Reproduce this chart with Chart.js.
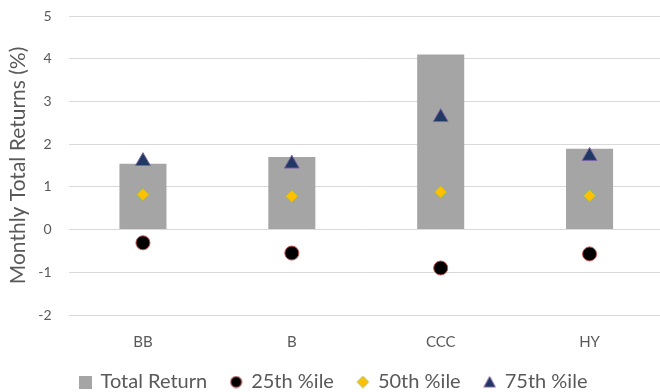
<!DOCTYPE html>
<html>
<head>
<meta charset="utf-8">
<script src="https://cdn.jsdelivr.net/npm/chart.js@4"></script>
<style>
  html, body { margin: 0; padding: 0; background: #fff; overflow: hidden; }
  #wrap { width: 660px; height: 392px; overflow: hidden; }
</style>
</head>
<body>
<div id="wrap"><canvas id="c" width="666" height="402"></canvas></div>
<script>
// Rating buckets
const categories = ['BB', 'B', 'CCC', 'HY'];
// Monthly total returns (%)
const totalReturn = [1.54, 1.70, 4.10, 1.89];
const pct25 = [-0.31, -0.55, -0.90, -0.57];
const pct50 = [0.82, 0.78, 0.88, 0.79];
const pct75 = [1.60, 1.54, 2.63, 1.72];
// Y axis tick values
const yTicks = [-2, -1, 0, 1, 2, 3, 4, 5];

const FONT = 'Lato, "Open Sans", sans-serif';
const TEXT = '#595959';

// Small legend icons
function icon(size, draw) {
  const cv = document.createElement('canvas');
  cv.width = size; cv.height = size;
  const g = cv.getContext('2d');
  draw(g, size);
  return cv;
}
const iconBar = icon(13, (g, s) => { g.fillStyle = '#A5A5A5'; g.fillRect(0, 0, s, s); });
const iconCircle = icon(13, (g, s) => {
  g.beginPath(); g.arc(s / 2, s / 2, 5.5, 0, Math.PI * 2);
  g.fillStyle = '#000'; g.fill(); g.lineWidth = 1; g.strokeStyle = '#C0504D'; g.stroke();
});
const iconDiamond = icon(13, (g, s) => {
  g.beginPath(); g.moveTo(s / 2, 0.8); g.lineTo(s - 0.8, s / 2); g.lineTo(s / 2, s - 0.8); g.lineTo(0.8, s / 2); g.closePath();
  g.fillStyle = '#FFC000'; g.fill(); g.lineWidth = 1; g.strokeStyle = '#9BBB59'; g.stroke();
});
const iconTriangle = icon(13, (g, s) => {
  g.beginPath(); g.moveTo(s / 2, 1); g.lineTo(s - 0.8, s - 1.5); g.lineTo(0.8, s - 1.5); g.closePath();
  g.fillStyle = '#1F3864'; g.fill(); g.lineWidth = 1; g.strokeStyle = '#8064A2'; g.stroke();
});
const legendIcons = [iconBar, iconCircle, iconDiamond, iconTriangle];

new Chart(document.getElementById('c'), {
  type: 'bar',
  data: {
    labels: categories,
    datasets: [
      {
        label: 'Total Return', data: totalReturn, backgroundColor: '#A5A5A5',
        barPercentage: 0.316, categoryPercentage: 1.0, order: 1
      },
      {
        type: 'line', label: '25th %ile', data: pct25, showLine: false, order: 0,
        pointStyle: 'circle', pointRadius: 7, pointBackgroundColor: '#000000',
        pointBorderColor: '#C0504D', pointBorderWidth: 1
      },
      {
        type: 'line', label: '50th %ile', data: pct50, showLine: false, order: 0,
        pointStyle: 'rectRot', pointRadius: 6.2, pointBackgroundColor: '#FFC000',
        pointBorderColor: '#9BBB59', pointBorderWidth: 1
      },
      {
        type: 'line', label: '75th %ile', data: pct75, showLine: false, order: 0,
        pointStyle: 'triangle', pointRadius: 8.6, pointBackgroundColor: '#1F3864',
        pointBorderColor: '#8064A2', pointBorderWidth: 1
      }
    ]
  },
  options: {
    responsive: false,
    animation: false,
    events: [],
    layout: { autoPadding: false, padding: { top: 16, left: 4, right: 2, bottom: 0 } },
    plugins: {
      tooltip: { enabled: false },
      legend: {
        position: 'bottom',
        labels: {
          usePointStyle: true,
          boxHeight: 13,
          pointStyleWidth: 10,
          padding: 24,
          color: TEXT,
          font: { family: FONT, size: 20 },
          generateLabels: (chart) => chart.data.datasets.map((ds, i) => ({
            text: ds.label,
            pointStyle: legendIcons[i],
            fillStyle: '#000', strokeStyle: '#000', lineWidth: 1,
            fontColor: TEXT, hidden: false, datasetIndex: i
          }))
        }
      }
    },
    scales: {
      x: {
        grid: { display: false, drawTicks: false },
        border: { display: false },
        ticks: { color: TEXT, font: { family: FONT, size: 15 }, padding: 18 },
        afterFit: (scale) => { scale.height = 33; }
      },
      y: {
        min: yTicks[0], max: yTicks[yTicks.length - 1],
        afterBuildTicks: (axis) => { axis.ticks = yTicks.map(v => ({ value: v })); },
        grid: { color: '#D9D9D9', lineWidth: 1, drawTicks: true, tickLength: 17, tickColor: 'rgba(0,0,0,0)' },
        border: { display: false },
        ticks: { color: TEXT, font: { family: FONT, size: 14 }, padding: 0 },
        title: {
          display: true, text: 'Monthly Total Returns (%)', color: TEXT,
          font: { family: FONT, size: 21 }, padding: { top: 2, bottom: 7 }
        }
      }
    }
  }
});
</script>
</body>
</html>
